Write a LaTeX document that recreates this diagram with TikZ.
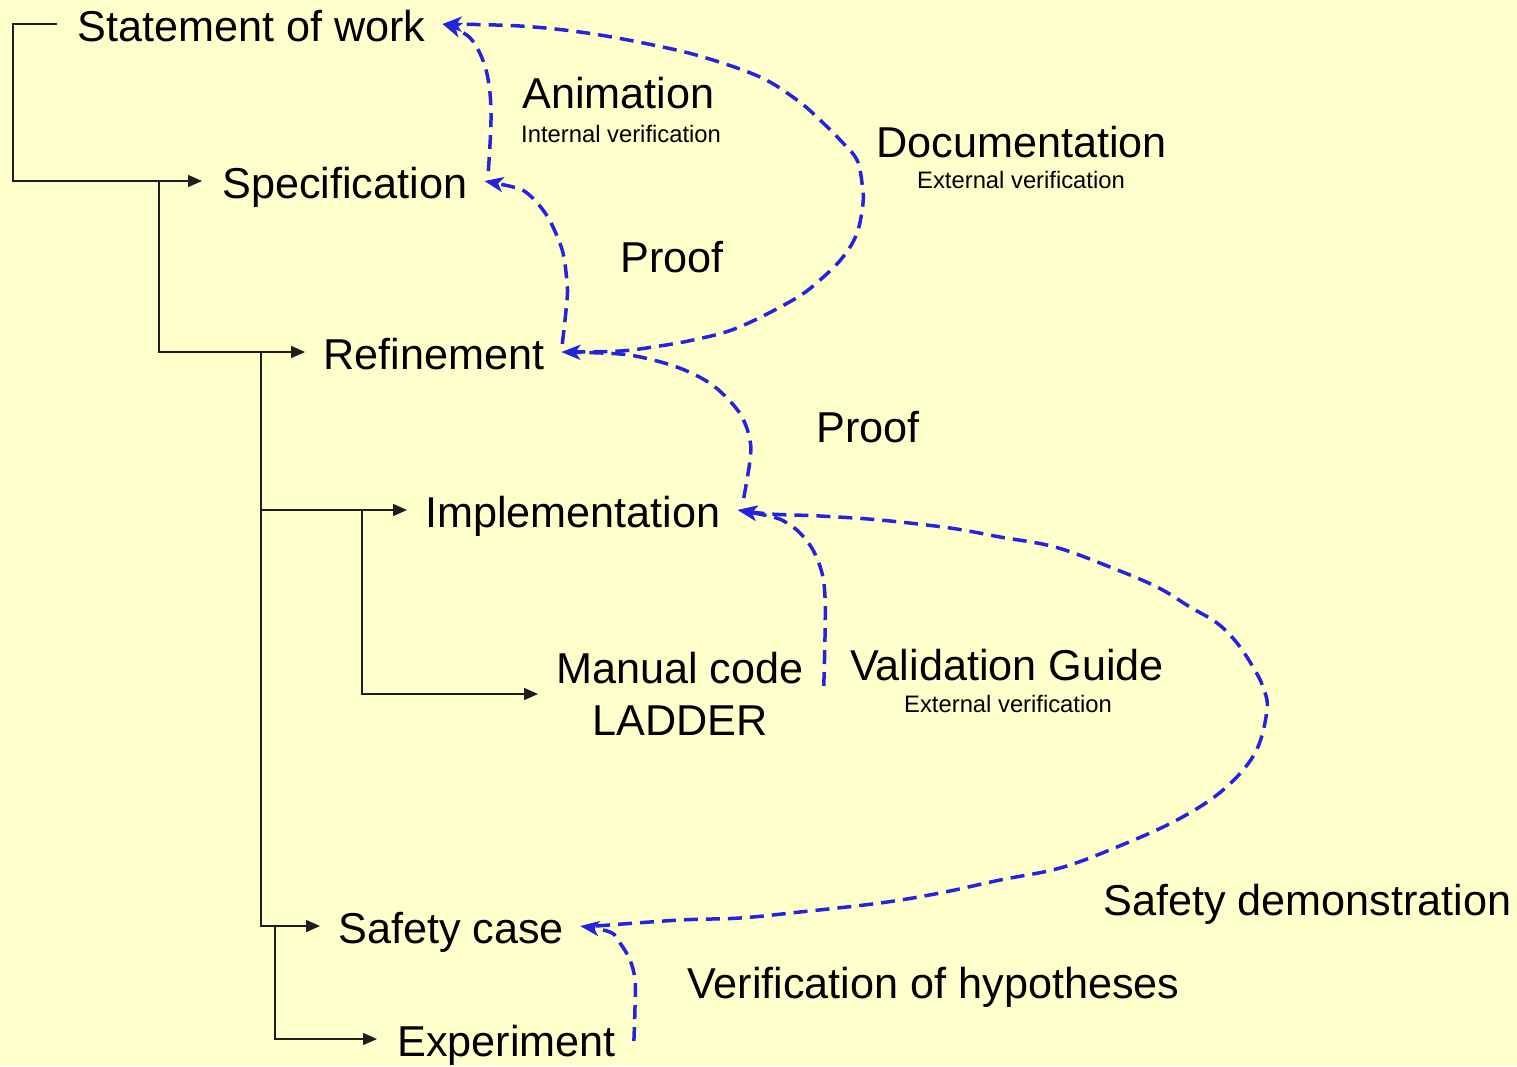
\documentclass[tikz,border=0pt]{standalone}
\usepackage{fontspec}
\setmainfont{Liberation Sans}
\usetikzlibrary{arrows.meta}
\definecolor{bgyellow}{RGB}{255,255,204}
\definecolor{flowblue}{RGB}{36,36,224}
\definecolor{treeline}{RGB}{30,30,30}
\tikzset{
  big/.style={font=\fontsize{43.2}{52}\selectfont, inner sep=0pt},
  small/.style={font=\fontsize{23.8}{28}\selectfont, inner sep=0pt},
  stage/.style={big, text height=38pt, text depth=4pt, anchor=west},
  lbl/.style={big, anchor=base west},
  sublbl/.style={small, anchor=base west},
  tree/.style={line width=1.3pt, draw=treeline, -{Triangle[length=14pt,width=12pt]}},
  flow/.style={line width=3.5pt, draw=flowblue, dash pattern=on 14pt off 8pt,
    -{Stealth[length=19pt,width=15pt,inset=5pt]}},
  flowplot/.style={smooth, tension=0.6}
}
\begin{document}
\begin{tikzpicture}[x=1pt,y=-1pt]
\fill[bgyellow] (0,0) rectangle (1517,1066);
\useasboundingbox (0,0) rectangle (1517,1066);

% stages
\node[stage] (stmt) at (77,24) {Statement of work};
\node[stage] (spec) at (222,181) {Specification};
\node[stage] (ref) at (323,352) {Refinement};
\node[stage] (impl) at (425,510) {Implementation};
\node[big, align=center, anchor=west] (man) at (556,694) {Manual code\\LADDER};
\node[stage] (safe) at (338,926) {Safety case};
\node[stage] (exp) at (397,1039) {Experiment};

% labels
\node[lbl] (anim) at (522,108) {Animation};
\node[sublbl] (animv) at (521,142) {Internal verification};
\node[lbl] (doc) at (876,157) {Documentation};
\node[sublbl] (docv) at (917,188) {External verification};
\node[lbl] (proofa) at (620,272) {Proof};
\node[lbl] (proofb) at (816,442) {Proof};
\node[lbl] (valg) at (850,680) {Validation Guide};
\node[sublbl] (valv) at (904,712) {External verification};
\node[lbl] (sdemo) at (1103,915) {Safety demonstration};
\node[lbl] (vhyp) at (687,998) {Verification of hypotheses};

% tree connectors
\coordinate (b1) at ([xshift=-63pt]spec.west);
\coordinate (b2) at ([xshift=-62pt]ref.west);
\coordinate (b3) at ([xshift=-63pt]impl.west);
\coordinate (b4) at ([xshift=-63pt]safe.west);
\draw[tree] ([xshift=-20pt]stmt.west) -- ++(-44,0) |- ([xshift=-20pt]spec.west);
\draw[tree] (b1) |- ([xshift=-18pt]ref.west);
\draw[tree] (b2) |- ([xshift=-18pt]impl.west);
\draw[tree] (b2) |- ([xshift=-18pt]safe.west);
\draw[tree] (b3) |- ([xshift=-18pt]man.west);
\draw[tree] (b4) |- ([xshift=-20pt]exp.west);

% arrival points of the verification links
\coordinate (stmtIn) at ([xshift=17pt]stmt.east);
\coordinate (specIn) at ([xshift=17pt]spec.east);
\coordinate (refIn) at ([xshift=17pt]ref.east);
\coordinate (implIn) at ([xshift=17pt]impl.east);
\coordinate (safeIn) at ([xshift=16pt]safe.east);
\coordinate (manOut) at ([xshift=20pt,yshift=8pt]man.east);
\coordinate (expOut) at ([xshift=18pt,yshift=-2pt]exp.east);

% Animation: specification -> statement
\draw[flow] plot[flowplot] coordinates {([shift={(4,-10)}]specIn) (491,120) (489,85) (482,58) (468,36) (stmtIn)};
% Documentation: refinement -> statement
\draw[flow] plot[flowplot] coordinates {([xshift=10pt]refIn) (620,351) (653,347) (693,340) (737,328) (793,300) (820,280) (843,257) (857,233) (863,203) (862,183) (857,160) (843,143) (820,120) (797,100) (760,77) (703,57) (653,45) (587,33) (520,26) (stmtIn)};
% Proof: refinement -> specification
\draw[flow] plot[flowplot] coordinates {([shift={(1,-8)}]refIn) (567,300) (567,283) (563,253) (553,227) (543,210) (527,193) (513,187) (specIn)};
% Proof: implementation -> refinement
\draw[flow] plot[flowplot] coordinates {([shift={(6,-12)}]implIn) (750,460) (750,440) (742,417) (727,398) (708,382) (682,369) (653,360) (620,354) (refIn)};
% Validation guide: manual code -> implementation
\draw[flow] plot[flowplot] coordinates {(manOut) (825,637) (825,597) (822,573) (813,550) (800,533) (787,523) (773,517) (implIn)};
% Safety demonstration: safety case -> implementation
\draw[flow] plot[flowplot] coordinates {([xshift=16pt]safeIn) (680,920) (740,918) (800,912) (880,903) (940,893) (1000,880) (1060,868) (1117,847) (1177,820) (1223,790) (1255,753) (1267,710) (1263,687) (1253,667) (1237,643) (1217,623) (1190,607) (1157,587) (1110,567) (1055,547) (1000,537) (950,528) (880,520) (820,516) (770,514) (implIn)};
% Verification of hypotheses: experiment -> safety case
\draw[flow] plot[flowplot] coordinates {(expOut) (635,1007) (635,980) (630,960) (620,943) (610,932) (safeIn)};
\end{tikzpicture}
\end{document}
